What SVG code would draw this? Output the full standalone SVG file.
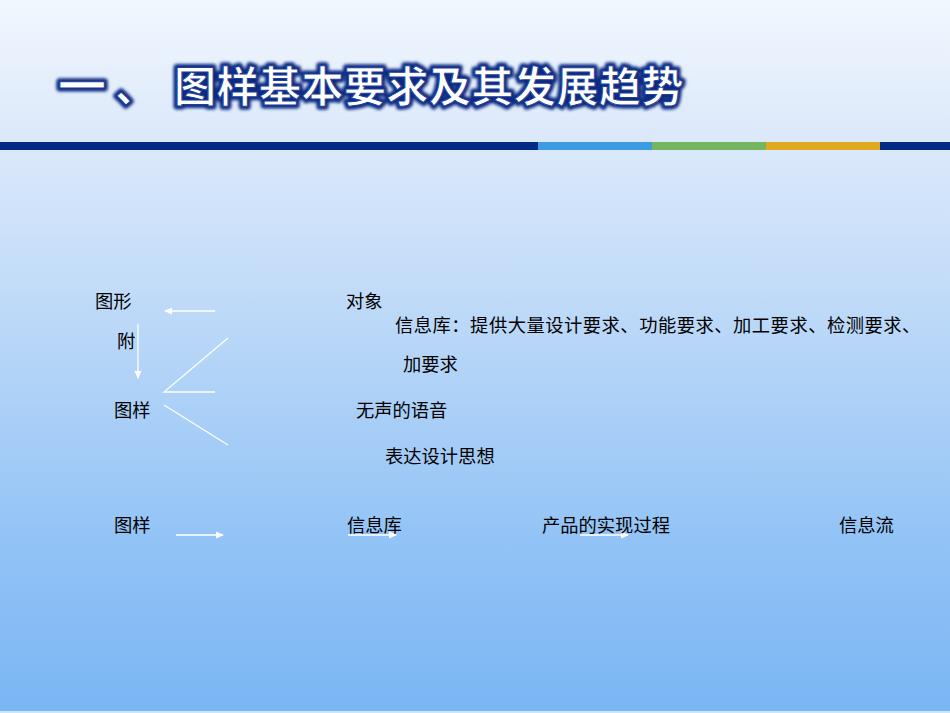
<svg xmlns="http://www.w3.org/2000/svg" width="950" height="713" viewBox="0 0 950 713">
<defs>
<linearGradient id="gTop" x1="0" y1="0" x2="0" y2="1">
<stop offset="0" stop-color="#f1f7fe"/>
<stop offset="1" stop-color="#dbe8fa"/>
</linearGradient>
<linearGradient id="gBody" x1="0" y1="0" x2="0" y2="1">
<stop offset="0" stop-color="#dce9fb"/>
<stop offset="0.3" stop-color="#bdd9f8"/>
<stop offset="0.7" stop-color="#92c3f6"/>
<stop offset="1" stop-color="#7ab6f4"/>
</linearGradient>
<filter id="glow" x="-10%" y="-30%" width="120%" height="160%">
<feGaussianBlur stdDeviation="1.5"/>
</filter>
<marker id="ah" markerWidth="8" markerHeight="8" refX="7" refY="4" orient="auto" markerUnits="userSpaceOnUse">
<path d="M0,0.5 L8,4 L0,7.5 z" fill="#ffffff"/>
</marker>
</defs>
<style>
.t{font-family:"Noto Sans CJK SC","Liberation Sans",sans-serif;font-size:18.3px;fill:#000000;}
.title{font-family:"Noto Sans CJK SC","Liberation Sans",sans-serif;font-size:42px;font-weight:bold;}
.ln{stroke:#ffffff;stroke-width:1.3;fill:none;}
</style>
<rect x="0" y="0" width="950" height="142" fill="url(#gTop)"/>
<rect x="0" y="142" width="950" height="571" fill="url(#gBody)"/>
<rect x="0" y="711" width="950" height="2" fill="#cde4fb"/>
<g id="bar">
<rect x="0" y="142" width="538" height="8" fill="#002a86"/>
<rect x="538" y="142" width="114" height="8" fill="#3d9be1"/>
<rect x="652" y="142" width="114" height="8" fill="#74b660"/>
<rect x="766" y="142" width="114" height="8" fill="#e2a820"/>
<rect x="880" y="142" width="70" height="8" fill="#002a86"/>
</g>
<g id="title">
<text class="title" x="58" y="102" fill="#0a2a80" stroke="#0a2a80" stroke-width="7" stroke-linejoin="round" filter="url(#glow)"><tspan x="58" y="102" font-size="48" dy="1">一</tspan><tspan x="115" y="102">、</tspan><tspan x="174" y="102" letter-spacing="0.5">图样基本要求及其发展趋势</tspan></text>
<text class="title" x="58" y="102" fill="#ffffff" stroke="#1c3f99" stroke-width="1"><tspan x="58" y="102" font-size="48" dy="1">一</tspan><tspan x="115" y="102">、</tspan><tspan x="174" y="102" letter-spacing="0.5">图样基本要求及其发展趋势</tspan></text>
</g>
<g id="connectors">
<line class="ln" x1="215" y1="311" x2="165" y2="311" marker-end="url(#ah)"/>
<line class="ln" x1="138" y1="324" x2="138" y2="378" marker-end="url(#ah)"/>
<polyline class="ln" points="228,338 164,392 215,392"/>
<line class="ln" x1="164" y1="405" x2="228" y2="445"/>
<line class="ln" x1="176" y1="535" x2="223" y2="535" marker-end="url(#ah)"/>
<line class="ln" x1="348" y1="535" x2="396" y2="535" marker-end="url(#ah)"/>
<line class="ln" x1="580" y1="535" x2="628" y2="535" marker-end="url(#ah)"/>
</g>
<g id="n-tuxing"><text class="t" x="95" y="308">图形</text></g>
<g id="n-fu"><text class="t" x="117" y="348">附</text></g>
<g id="n-tuyang"><text class="t" x="114" y="417">图样</text></g>
<g id="n-duixiang"><text class="t" x="346" y="308">对象</text></g>
<g id="n-xinxiku1"><text class="t" x="395" y="332" letter-spacing="0.5">信息库：提供大量设计要求、功能要求、加工要求、检测要求、</text></g>
<g id="n-jiayaoqiu"><text class="t" x="403" y="371">加要求</text></g>
<g id="n-wusheng"><text class="t" x="356" y="417">无声的语音</text></g>
<g id="n-biaoda"><text class="t" x="385" y="463">表达设计思想</text></g>
<g id="n-tuyang2"><text class="t" x="114" y="532">图样</text></g>
<g id="n-xinxiku2"><text class="t" x="347" y="532">信息库</text></g>
<g id="n-chanpin"><text class="t" x="542" y="532">产品的实现过程</text></g>
<g id="n-xinxiliu"><text class="t" x="839" y="532">信息流</text></g>
</svg>
